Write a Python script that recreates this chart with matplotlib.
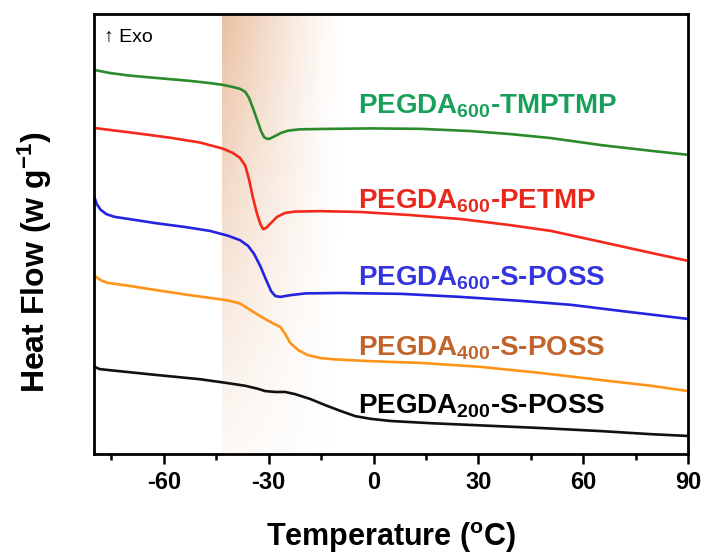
import matplotlib
matplotlib.use("Agg")
import matplotlib.pyplot as plt
import numpy as np

plt.rcParams["font.family"] = ["Liberation Sans", "DejaVu Sans"]
plt.rcParams["mathtext.fontset"] = "custom"
plt.rcParams["mathtext.rm"] = "Liberation Sans:bold"
plt.rcParams["mathtext.bf"] = "Liberation Sans:bold"
plt.rcParams["mathtext.it"] = "Liberation Sans:bold"
plt.rcParams["axes.unicode_minus"] = False

# DSC traces, temperature (degC) vs heat flow (arbitrary, stacked offsets)
x_tmptmp = [-80, -75.5, -69.8, -61.2, -52.5, -46.8, -43.1, -40.2, -38.2, -36.7, -35.6, -34.5,
            -33.3, -32.2, -31.3, -30.4, -29.6, -28.1, -26.4, -24.4, -21.0, -12.3, -0.9, 13.5,
            27.8, 39.3, 50.8, 65.2, 79.5, 90]
y_tmptmp = [87.3, 86.6, 86.0, 85.4, 84.8, 84.3, 83.9, 83.4, 83.0, 82.3, 80.9, 78.6,
            75.9, 73.4, 72.0, 71.6, 71.7, 72.3, 73.0, 73.5, 73.8, 73.9, 74.0, 73.9,
            73.4, 72.7, 71.8, 70.2, 68.9, 68.0]

x_petmp = [-80, -69.8, -58.3, -49.7, -43.1, -40.2, -38.2, -36.7, -35.6, -34.5, -33.3, -32.4,
           -31.6, -30.7, -29.6, -27.6, -25.3, -22.4, -15.2, -3.7, 10.6, 25.0, 39.3, 50.8,
           65.2, 79.5, 90]
y_petmp = [74.1, 73.1, 71.9, 70.8, 69.4, 68.4, 67.3, 65.5, 62.3, 58.2, 54.5, 52.3,
           51.1, 51.4, 52.3, 53.9, 54.8, 55.1, 55.2, 55.0, 54.3, 53.4, 52.0, 50.7,
           48.2, 45.7, 43.9]

x_poss600 = [-79.8, -79.2, -78.1, -76.4, -74.1, -68.3, -62.6, -54.0, -46.8, -41.6, -38.2, -35.9,
             -34.2, -32.4, -30.7, -29.3, -28.1, -26.7, -23.8, -19.5, -9.5, 7.8, 25.0, 42.2,
             56.6, 70.9, 90]
y_poss600 = [58.2, 56.8, 55.5, 54.5, 53.9, 53.2, 52.5, 51.6, 50.7, 49.6, 48.6, 47.3,
             45.5, 42.7, 39.5, 37.0, 35.9, 35.7, 36.1, 36.5, 36.6, 36.4, 35.7, 34.8,
             33.9, 32.5, 30.7]

x_poss400 = [-79.8, -78.1, -76.1, -69.8, -62.6, -52.5, -41.6, -38.2, -32.4, -29.0, -26.7, -25.3,
             -23.8, -21.5, -18.9, -15.2, -10.9, -0.9, 13.5, 30.7, 48.0, 65.2, 79.5, 90]
y_poss400 = [40.5, 39.5, 38.9, 38.2, 37.3, 36.1, 34.9, 34.2, 31.3, 29.8, 28.9, 27.3,
             25.2, 23.6, 22.5, 21.8, 21.5, 21.1, 20.7, 19.8, 18.4, 16.8, 15.5, 14.3]

x_poss200 = [-79.8, -78.4, -76.1, -62.6, -49.7, -41.6, -36.7, -33.0, -31.0, -28.1, -25.3, -22.4,
             -18.1, -13.8, -9.5, -5.2, -0.9, 4.9, 16.4, 33.6, 48.0, 65.2, 79.5, 90]
y_poss200 = [19.8, 19.3, 19.1, 18.0, 17.0, 16.1, 15.5, 14.8, 14.3, 14.1, 14.1, 13.6,
             12.5, 11.1, 9.8, 8.6, 8.0, 7.5, 7.0, 6.4, 5.9, 5.2, 4.5, 4.1]

labels = [r"PEGDA$_{600}$-TMPTMP", r"PEGDA$_{600}$-PETMP", r"PEGDA$_{600}$-S-POSS",
          r"PEGDA$_{400}$-S-POSS", r"PEGDA$_{200}$-S-POSS"]
line_colors = ["#2b8a2b", "#f5281c", "#2323e0", "#ff9418", "#111111"]
text_colors = ["#18a05a", "#e8281c", "#3535dd", "#c0642c", "#000000"]
label_y = [77.5, 55.9, 38.4, 22.5, 9.3]

series = [(x_tmptmp, y_tmptmp), (x_petmp, y_petmp), (x_poss600, y_poss600),
          (x_poss400, y_poss400), (x_poss200, y_poss200)]

fig = plt.figure(figsize=(7.04, 5.54), dpi=100)
ax = fig.add_axes([0.1335, 0.1805, 0.8438, 0.7942])

# glass transition band, fading to the right and towards the top
nx, ny = 200, 100
u = np.linspace(0, 1, nx)[None, :]
v = np.linspace(0, 1, ny)[:, None]
rgba = np.zeros((ny, nx, 4))
rgba[..., 0] = 0.87
rgba[..., 1] = 0.60
rgba[..., 2] = 0.40
rgba[..., 3] = (1 - u) ** 1.2 * (0.07 + 0.55 * v ** 1.2)
ax.imshow(rgba, extent=[-43.3, -9.5, 100, 0], aspect="auto", zorder=0,
          interpolation="bilinear")

for (xs, ys), c in zip(series, line_colors):
    ax.plot(xs, ys, color=c, lw=1.9, solid_joinstyle="round", zorder=2)

for lab, c, yy in zip(labels, text_colors, label_y):
    ax.text(-4.5, yy, lab, color=c, fontsize=20, fontweight="bold", va="baseline", ha="left")

ax.text(-77.0, 94.8, "\u2191 Exo", fontsize=14, va="center", ha="left")

ax.set_xlim(-80, 90)
ax.set_ylim(0, 100)
ax.set_xticks([-60, -30, 0, 30, 60, 90])
ax.set_xticks([-75, -45, -15, 15, 45, 75], minor=True)
ax.set_yticks([])
ax.tick_params(axis="x", which="major", direction="out", length=7, width=1.8, pad=5,
               labelsize=17)
ax.tick_params(axis="x", which="minor", direction="out", length=4, width=1.8)
for lab in ax.get_xticklabels():
    lab.set_fontweight("bold")
for sp in ax.spines.values():
    sp.set_linewidth(2)

ax.set_xlabel(r"Temperature ($^{o}$C)", fontsize=22, fontweight="bold", labelpad=19)
ax.set_ylabel(r"Heat Flow (w g$^{-1}$)", fontsize=23, fontweight="bold")
ax.yaxis.set_label_coords(-0.068, 0.436)

fig.savefig("out.png", dpi=100)
